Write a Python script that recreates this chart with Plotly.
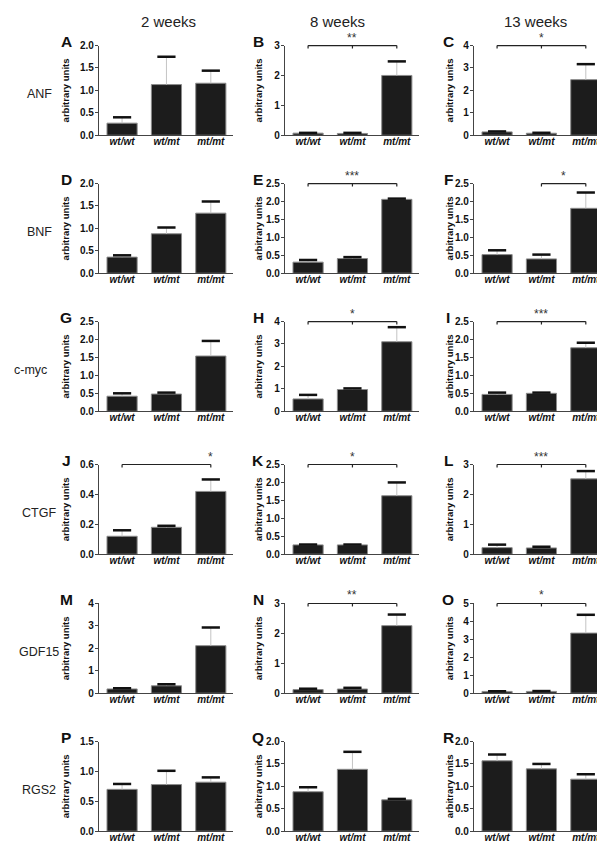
import plotly.graph_objects as go

FONT = "Liberation Sans, Arial, sans-serif"

genotypes = ["wt/wt", "wt/mt", "mt/mt"]
genes = ["ANF", "BNF", "c-myc", "CTGF", "GDF15", "RGS2"]
weeks = ["2 weeks", "8 weeks", "13 weeks"]
letters = list("ABCDEFGHIJKLMNOPQR")

# ---- values (mean, upper error) per panel ----
mean_A = [0.27, 1.13, 1.16]; err_A = [0.13, 0.62, 0.28]
mean_B = [0.07, 0.06, 2.00]; err_B = [0.01, 0.02, 0.47]
mean_C = [0.15, 0.09, 2.48]; err_C = [0.02, 0.02, 0.69]
mean_D = [0.36, 0.88, 1.34]; err_D = [0.04, 0.14, 0.26]
mean_E = [0.31, 0.41, 2.06]; err_E = [0.06, 0.04, 0.02]
mean_F = [0.52, 0.40, 1.81]; err_F = [0.12, 0.12, 0.44]
mean_G = [0.42, 0.48, 1.54]; err_G = [0.08, 0.04, 0.42]
mean_H = [0.55, 0.97, 3.10]; err_H = [0.18, 0.05, 0.65]
mean_I = [0.47, 0.50, 1.77]; err_I = [0.05, 0.02, 0.14]
mean_J = [0.12, 0.18, 0.42]; err_J = [0.04, 0.01, 0.08]
mean_K = [0.26, 0.26, 1.63]; err_K = [0.01, 0.01, 0.37]
mean_L = [0.22, 0.21, 2.52]; err_L = [0.10, 0.04, 0.26]
mean_M = [0.19, 0.33, 2.12]; err_M = [0.03, 0.07, 0.81]
mean_N = [0.12, 0.14, 2.26]; err_N = [0.03, 0.04, 0.37]
mean_O = [0.10, 0.10, 3.35]; err_O = [0.01, 0.02, 1.02]
mean_P = [0.70, 0.78, 0.82]; err_P = [0.09, 0.23, 0.08]
mean_Q = [0.88, 1.38, 0.70]; err_Q = [0.10, 0.39, 0.02]
mean_R = [1.57, 1.39, 1.16]; err_R = [0.14, 0.11, 0.11]

# y-axis maxima and tick steps
y_max = [2, 3, 4, 2, 2.5, 2.5, 2.5, 4, 2.5, 0.6, 2.5, 3, 4, 3, 5, 1.5, 2, 2]
y_step = [0.5, 1, 1, 0.5, 0.5, 0.5, 0.5, 1, 0.5, 0.2, 0.5, 1, 1, 1, 1, 0.5, 0.5, 0.5]

# significance brackets: panel -> (from idx, to idx, middle tick, label, label idx)
brackets = {
    "B": (0, 2, True, "**", 1),
    "C": (0, 2, True, "*", 1),
    "E": (0, 2, True, "***", 1),
    "F": (1, 2, False, "*", 1.5),
    "H": (0, 2, True, "*", 1),
    "I": (0, 2, True, "***", 1),
    "J": (0, 2, False, "*", 2),
    "K": (0, 2, True, "*", 1),
    "L": (0, 2, True, "***", 1),
    "N": (0, 2, True, "**", 1),
    "O": (0, 2, True, "*", 1),
}

means = [mean_A, mean_B, mean_C, mean_D, mean_E, mean_F, mean_G, mean_H, mean_I,
         mean_J, mean_K, mean_L, mean_M, mean_N, mean_O, mean_P, mean_Q, mean_R]
errs = [err_A, err_B, err_C, err_D, err_E, err_F, err_G, err_H, err_I,
        err_J, err_K, err_L, err_M, err_N, err_O, err_P, err_Q, err_R]

# ---- layout geometry (pixels) ----
W, H = 605, 844
col_left = [91, 277, 466]
plot_w = 134
row_top = [32, 172, 312, 457, 598, 738]
plot_h = 91
ytitle_x = [57, 250, 441]
letter_x = [58, 250, 440]
title_x = [160, 329, 527]
gene_cx = [31, 31, 22, 31, 31, 31]

AXC = "#444444"

fig = go.Figure()
layout = dict(width=W, height=H, margin=dict(l=0, r=0, t=0, b=0),
              paper_bgcolor="white", plot_bgcolor="white", showlegend=False)
annotations = []
shapes = []

for i in range(18):
    r, c = divmod(i, 3)
    n = i + 1
    xa = "x" if n == 1 else f"x{n}"
    ya = "y" if n == 1 else f"y{n}"
    xk = "xaxis" if n == 1 else f"xaxis{n}"
    yk = "yaxis" if n == 1 else f"yaxis{n}"

    fig.add_trace(go.Bar(
        x=genotypes, y=means[i], xaxis=xa, yaxis=ya, width=0.68,
        marker=dict(color="#1c1c1c", line=dict(color="#8c8c8c", width=1)),
        error_y=dict(type="data", array=errs[i], arrayminus=[0, 0, 0], symmetric=False,
                     color="#c4c4c4", thickness=1, width=0),
        hoverinfo="skip"))
    tops = [m + e for m, e in zip(means[i], errs[i])]
    fig.add_trace(go.Scatter(
        x=genotypes, y=tops, xaxis=xa, yaxis=ya, mode="markers", cliponaxis=False,
        marker=dict(symbol="line-ew", size=13, color="#111111",
                    line=dict(color="#111111", width=2.5)),
        hoverinfo="skip"))

    x0 = col_left[c] / W
    x1 = (col_left[c] + plot_w) / W
    y1 = 1 - row_top[r] / H
    y0 = 1 - (row_top[r] + plot_h) / H

    layout[xk] = dict(domain=[x0, x1], anchor=ya, type="category",
                      range=[-0.52, 2.5], showline=True, linecolor=AXC, linewidth=1.3,
                      ticks="", showgrid=False, zeroline=False, ticklabelstandoff=-3,
                      tickfont=dict(family=FONT, size=10, color="#111111",
                                    weight="bold", style="italic"))
    fmt = ".1f" if y_step[i] < 1 else "d"
    layout[yk] = dict(domain=[y0, y1], anchor=xa, range=[0, y_max[i]],
                      tick0=0, dtick=y_step[i], tickformat=fmt,
                      showline=True, linecolor=AXC, linewidth=1.3,
                      ticks="outside", ticklen=3, tickwidth=1.2, tickcolor=AXC,
                      showgrid=False, zeroline=False, ticklabelstandoff=-1,
                      tickfont=dict(family=FONT, size=10, color="#111111", weight="bold"))

    # y title
    annotations.append(dict(text="arbitrary units", textangle=-90, xref="paper", yref="paper",
                            x=ytitle_x[c] / W, y=(y0 + y1) / 2, xanchor="center", yanchor="middle",
                            showarrow=False,
                            font=dict(family=FONT, size=9.5, color="#111111", weight="bold")))
    # panel letter
    annotations.append(dict(text=letters[i], xref="paper", yref="paper",
                            x=letter_x[c] / W, y=1 - (row_top[r] - 4) / H,
                            xanchor="center", yanchor="middle", showarrow=False,
                            font=dict(family=FONT, size=15.5, color="#111111", weight="bold")))

    L = letters[i]
    if L in brackets:
        a, b, mid, lab, lx = brackets[L]
        dy = 3.0 / plot_h
        yd = f"{ya} domain"
        line = dict(color="#222222", width=1.2)
        shapes.append(dict(type="line", xref=xa, yref=yd, x0=a, x1=b, y0=1, y1=1, line=line))
        shapes.append(dict(type="line", xref=xa, yref=yd, x0=a, x1=a, y0=1, y1=1 - dy, line=line))
        shapes.append(dict(type="line", xref=xa, yref=yd, x0=b, x1=b, y0=1, y1=1 - dy, line=line))
        if mid:
            shapes.append(dict(type="line", xref=xa, yref=yd, x0=1, x1=1, y0=1, y1=1 - dy, line=line))
        annotations.append(dict(text=lab, xref=xa, yref=yd, x=lx, y=1, xanchor="center",
                                yanchor="bottom", showarrow=False, yshift=-1,
                                font=dict(family=FONT, size=12, color="#333333")))

for c in range(3):
    annotations.append(dict(text=weeks[c], xref="paper", yref="paper", x=title_x[c] / W,
                            y=1 - 8 / H, xanchor="center", yanchor="middle", showarrow=False,
                            font=dict(family=FONT, size=15, color="#222222")))
for r in range(6):
    annotations.append(dict(text=genes[r], xref="paper", yref="paper", x=gene_cx[r] / W,
                            y=1 - (row_top[r] + 49) / H, xanchor="center", yanchor="middle",
                            showarrow=False,
                            font=dict(family=FONT, size=12.5, color="#222222")))

layout["annotations"] = annotations
layout["shapes"] = shapes
fig.update_layout(**layout)
fig.write_html("out.html")
